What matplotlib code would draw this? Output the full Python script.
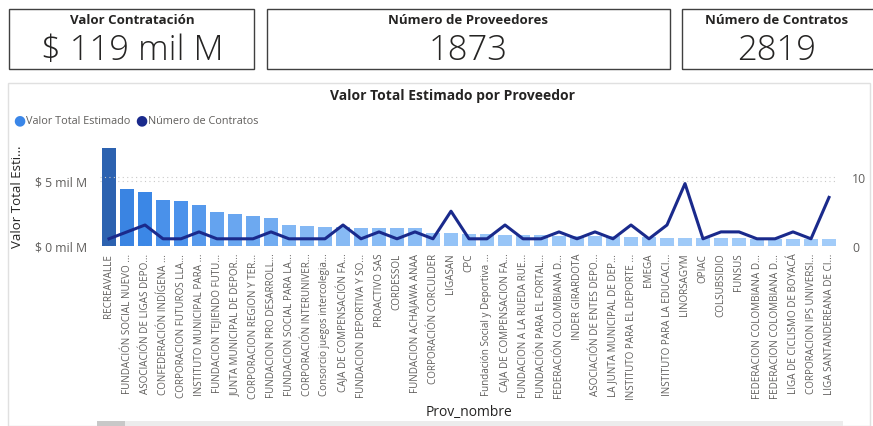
import matplotlib.pyplot as plt
import numpy as np
from matplotlib.colors import LinearSegmentedColormap
from matplotlib.patches import Rectangle

plt.rcParams['font.family'] = ['Open Sans', 'DejaVu Sans']

# KPI cards
kpi_titles = ['Valor Contratación', 'Número de Proveedores', 'Número de Contratos']
kpi_values = ['$ 119 mil M', '1873', '2819']

# chart data (valor in "mil M")
proveedores = [
    'RECREAVALLE', 'FUNDACIÓN SOCIAL NUEVO ...', 'ASOCIACIÓN DE LIGAS DEPO...',
    'CONFEDERACIÓN INDÍGENA ...', 'CORPORACION FUTUROS LLA...', 'INSTITUTO MUNICIPAL PARA ...',
    'FUNDACION TEJIENDO FUTU...', 'JUNTA MUNICIPAL DE DEPOR...', 'CORPORACION REGION Y TER...',
    'FUNDACION PRO DESARROLL...', 'FUNDACION SOCIAL PARA LA...', 'CORPORACIÓN INTERUNIVER...',
    'Consorcio juegos intercolegia...', 'CAJA DE COMPENSACIÓN FA...', 'FUNDACION DEPORTIVA Y SO...',
    'PROACTIVO SAS', 'CORDESSOL', 'FUNDACION ACHAJAWA ANAA', 'CORPORACIÓN CORCULDER',
    'LIGASAN', 'CPC', 'Fundación Social y Deportiva ...', 'CAJA DE COMPENSACION FA...',
    'FUNDACION A LA RUEDA RUE...', 'FUNDACIÓN PARA EL FORTAL...', 'FEDERACIÓN COLOMBIANA D...',
    'INDER GIRARDOTA', 'ASOCIACIÓN DE ENTES DEPO...', 'LA JUNTA MUNICIPAL DE DEP...',
    'INSTITUTO PARA EL DEPORTE ...', 'EMEGA', 'INSTITUTO PARA LA EDUCACI...', 'LINORSAGYM',
    'OPIAC', 'COLSUBSIDIO', 'FUNSUS', 'FEDERACION COLOMBIANA D...', 'FEDERACION COLOMBIANA D...',
    'LIGA DE CICLISMO DE BOYACÁ', 'CORPORACION IPS UNIVERSI...', 'LIGA SANTANDEREANA DE CI...',
]
valor_total = [
    7.5, 4.4, 4.1, 3.5, 3.45, 3.1, 2.6, 2.45, 2.3, 2.15,
    1.6, 1.5, 1.45, 1.42, 1.4, 1.38, 1.35, 1.33, 1.0, 0.95,
    0.9, 0.87, 0.84, 0.8, 0.79, 0.77, 0.75, 0.73, 0.72, 0.7,
    0.68, 0.62, 0.6, 0.58, 0.57, 0.56, 0.55, 0.54, 0.52, 0.5, 0.48,
]
num_contratos = [
    1, 2, 3, 1, 1, 2, 1, 1, 1, 2,
    1, 1, 1, 3, 1, 2, 1, 2, 1, 5,
    1, 1, 3, 1, 1, 2, 1, 2, 1, 3,
    1, 3, 9, 1, 2, 2, 1, 1, 2, 1, 7,
]

W, H = 873, 427
fig = plt.figure(figsize=(W / 100, H / 100), dpi=100)


def fx(px):
    return px / W


def fy(py):
    return 1 - py / H


# cards
cards = [(9, 254, 132), (267, 670, 468), (682, 880, 777)]
for (x0, x1, xc), t, v in zip(cards, kpi_titles, kpi_values):
    fig.patches.append(Rectangle((fx(x0), fy(70)), fx(x1 - x0), (70 - 10) / H,
                                 transform=fig.transFigure, fill=False,
                                 edgecolor='#404040', lw=1))
    fig.text(fx(xc), fy(21), t, ha='center', va='center', fontsize=9.5,
             fontweight='bold', color='#252423')
    fig.text(fx(xc), fy(51), v, ha='center', va='center', fontsize=25,
             fontweight='light', color='#252423')

# chart panel
fig.patches.append(Rectangle((fx(8), fy(427)), fx(870 - 8), (427 - 84) / H,
                             transform=fig.transFigure, fill=False,
                             edgecolor='#e0e0e0', lw=1))
fig.patches.append(Rectangle((fx(97), fy(427)), fx(843 - 97), 5 / H,
                             transform=fig.transFigure, color='#ececec', lw=0))
fig.patches.append(Rectangle((fx(97), fy(427)), fx(28), 5 / H,
                             transform=fig.transFigure, color='#c8c8c8', lw=0))

fig.text(fx(452), fy(96), 'Valor Total Estimado por Proveedor', ha='center',
         va='center', fontsize=10, fontweight='bold', color='#252423')

# legend
fig.text(fx(19), fy(121), '●', ha='center', va='center', fontsize=10, color='#3A86E8')
fig.text(fx(26), fy(121), 'Valor Total Estimado', ha='left', va='center',
         fontsize=7.8, color='#605e5c')
fig.text(fx(141), fy(121), '●', ha='center', va='center', fontsize=10, color='#1a2a8c')
fig.text(fx(148), fy(121), 'Número de Contratos', ha='left', va='center',
         fontsize=7.8, color='#605e5c')

ax = fig.add_axes([fx(100), fy(246.7), fx(838 - 100), (246.7 - 147) / H])
x = np.arange(len(proveedores))
vals = np.array(valor_total)

cmap = LinearSegmentedColormap.from_list(
    'pbi', [(0.0, '#a2ccf9'), (0.5, '#3c88e8'), (1.0, '#2c62b0')])
norm = (vals - vals.min()) / (vals.max() - vals.min())
ax.bar(x, vals, width=0.82, color=cmap(norm), zorder=2)

ax.set_xlim(-0.5, len(proveedores) - 0.5)
ax.set_ylim(0, 7.67)
ax.set_yticks([0, 5])
ax.set_yticklabels(['$ 0 mil M', '$ 5 mil M'])
ax.set_xticks(x)
ax.set_xticklabels(proveedores, rotation=90, fontsize=7.1, color='#605e5c')
ax.tick_params(axis='y', length=0, labelsize=8.8, labelcolor='#605e5c', pad=9)
ax.tick_params(axis='x', length=0, pad=5)
ax.grid(axis='y', linestyle=(0, (1, 3)), color='#c8c8c8', lw=0.8, zorder=0)
for s in ax.spines.values():
    s.set_visible(False)
ax.set_ylabel('Valor Total Esti...', fontsize=9.5, color='#252423', labelpad=8)
ax.set_xlabel('Prov_nombre', fontsize=10, color='#252423', labelpad=4)

ax2 = ax.twinx()
ax2.plot(x, num_contratos, color='#1a2a8c', lw=2.2, zorder=3)
ax2.set_ylim(0, 14.45)
ax2.set_yticks([0, 10])
ax2.tick_params(axis='y', length=0, labelsize=8.8, labelcolor='#605e5c', pad=10)
ax2.grid(axis='y', linestyle=(0, (1, 3)), color='#c8c8c8', lw=0.8)
for s in ax2.spines.values():
    s.set_visible(False)

fig.savefig('out.png', dpi=100)
